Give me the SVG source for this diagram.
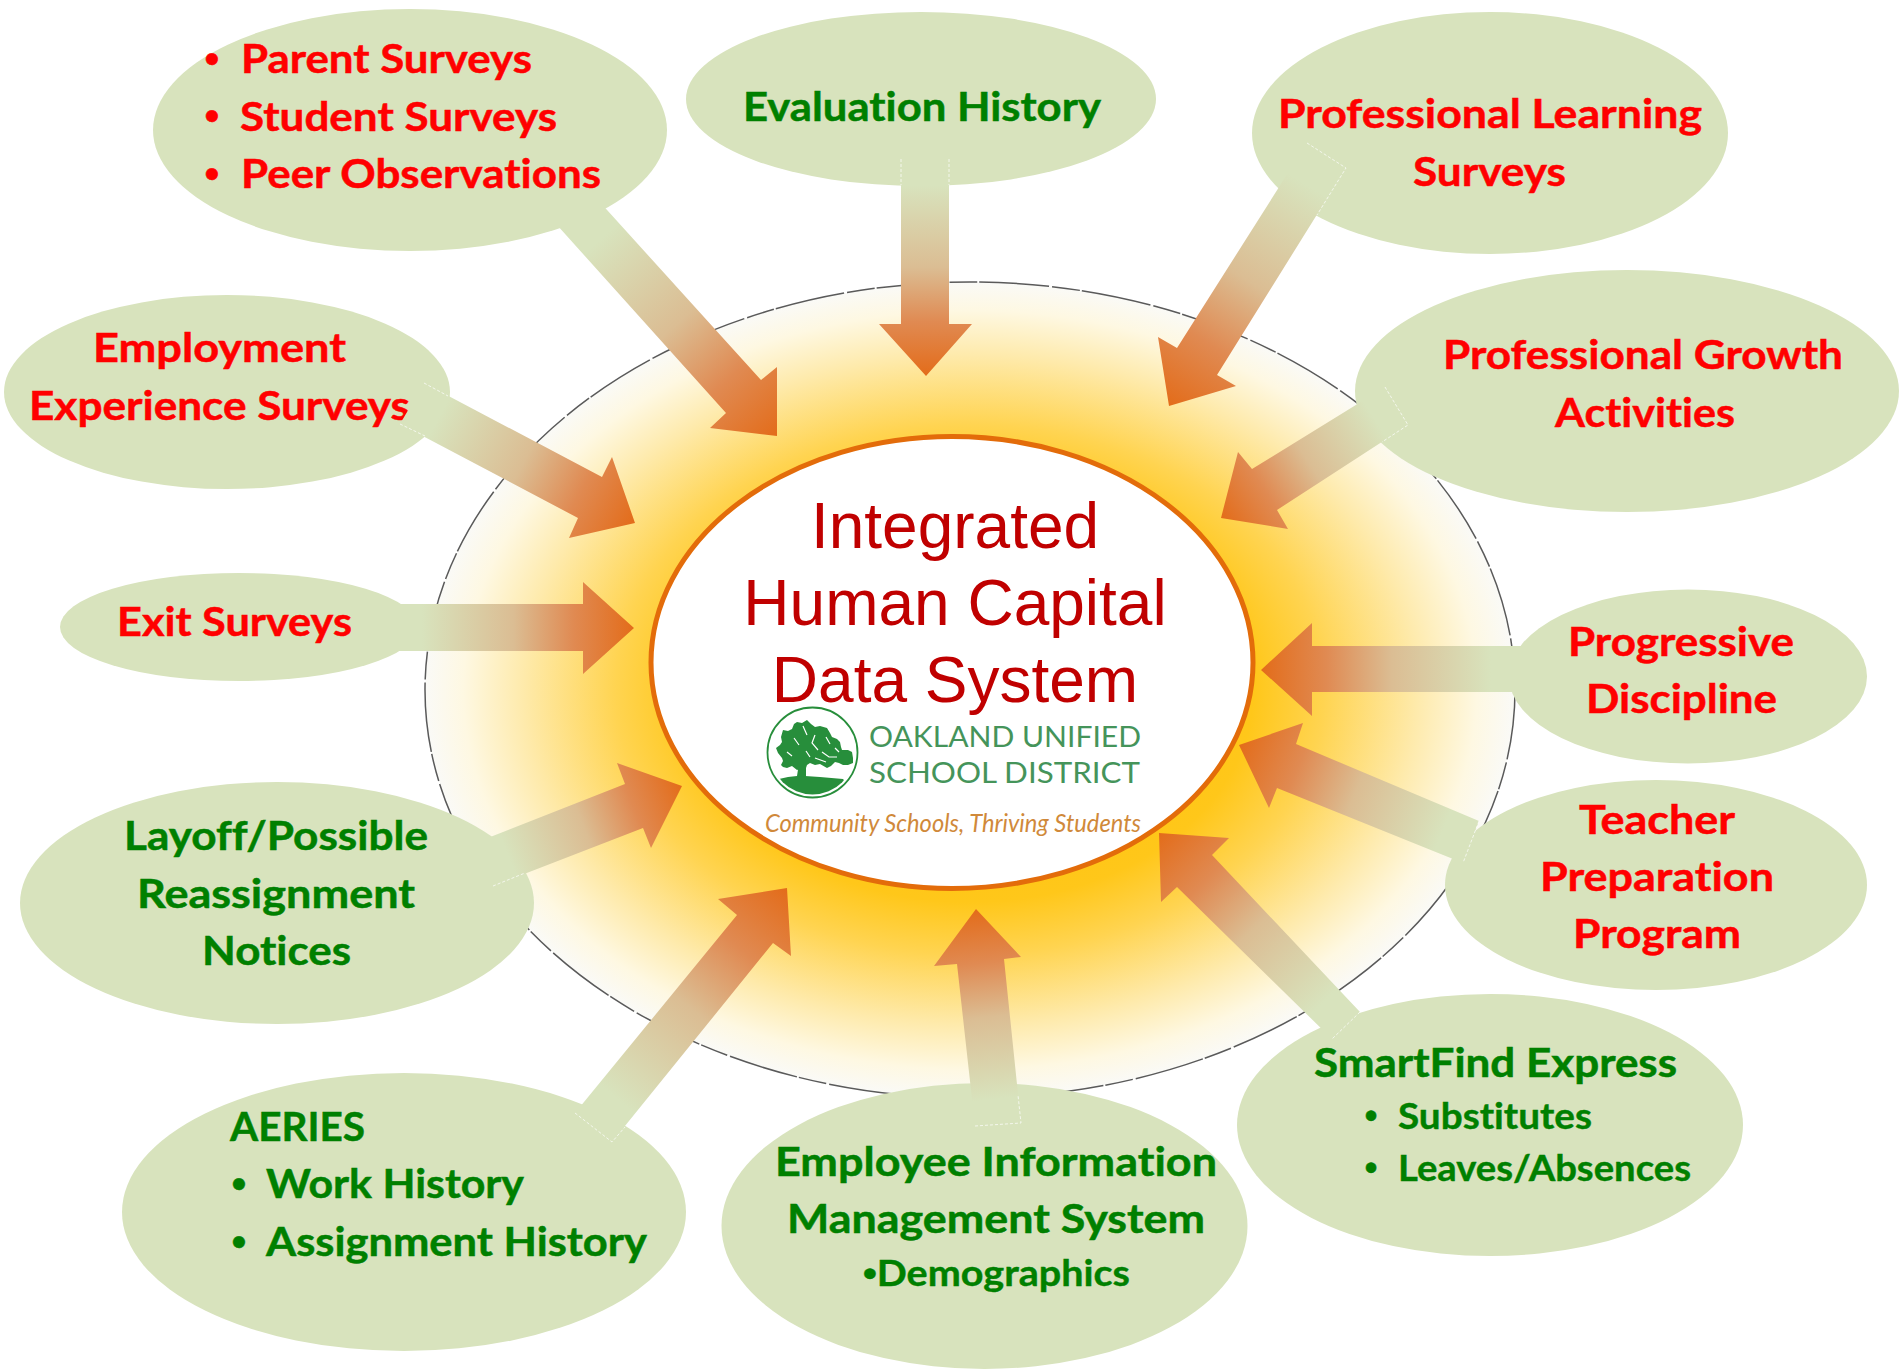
<svg xmlns="http://www.w3.org/2000/svg" width="1901" height="1371" viewBox="0 0 1901 1371">
<style>
.n{fill:#D8E3BD}
text{font-family:"Lato","Open Sans",sans-serif;font-variant-ligatures:none}
.t{font-weight:700;font-size:41px;stroke-width:.5px}
.s{font-weight:700;font-size:36px;stroke-width:.4px}
.r{fill:#FF0000;stroke:#FF0000}
.g{fill:#008000;stroke:#008000}
.b{font-family:"Liberation Sans",Arial,sans-serif;text-anchor:middle}
.c{font-family:"Liberation Sans",Arial,sans-serif;font-size:64px;fill:#C00000;text-anchor:middle}
.l{font-size:29px;font-weight:400;fill:#45945A}
</style>
<defs>
<radialGradient id="glow" cx="0.5" cy="0.5" r="0.5">
<stop offset="0" stop-color="#FFC000"/>
<stop offset="0.52" stop-color="#FFC71A"/>
<stop offset="0.65" stop-color="#FFD451"/>
<stop offset="0.82" stop-color="#FEEAAB"/>
<stop offset="0.93" stop-color="#FEF8E2"/>
<stop offset="1" stop-color="#FAFAF7"/>
</radialGradient>
<linearGradient id="ag">
<stop offset="0.12" stop-color="#D8E3BD"/>
<stop offset="0.5" stop-color="#DBBD93"/>
<stop offset="0.75" stop-color="#E08A52"/>
<stop offset="1" stop-color="#E36C1A"/>
</linearGradient>
<linearGradient id="a1" href="#ag" gradientUnits="userSpaceOnUse" x1="577" y1="212" x2="777" y2="436"/>
<linearGradient id="a2" href="#ag" gradientUnits="userSpaceOnUse" x1="925" y1="159" x2="925" y2="376"/>
<linearGradient id="a3" href="#ag" gradientUnits="userSpaceOnUse" x1="1326" y1="155" x2="1169" y2="406"/>
<linearGradient id="a4" href="#ag" gradientUnits="userSpaceOnUse" x1="1396" y1="406" x2="1221" y2="518"/>
<linearGradient id="a5" href="#ag" gradientUnits="userSpaceOnUse" x1="412" y1="403" x2="635" y2="523"/>
<linearGradient id="a6" href="#ag" gradientUnits="userSpaceOnUse" x1="393" y1="628" x2="634" y2="628"/>
<linearGradient id="a7" href="#ag" gradientUnits="userSpaceOnUse" x1="1522" y1="670" x2="1261" y2="670"/>
<linearGradient id="a8" href="#ag" gradientUnits="userSpaceOnUse" x1="1471" y1="842" x2="1239" y2="745"/>
<linearGradient id="a9" href="#ag" gradientUnits="userSpaceOnUse" x1="1346" y1="1025" x2="1159" y2="833"/>
<linearGradient id="a10" href="#ag" gradientUnits="userSpaceOnUse" x1="998" y1="1125" x2="976" y2="909"/>
<linearGradient id="a11" href="#ag" gradientUnits="userSpaceOnUse" x1="593" y1="1127" x2="787" y2="888"/>
<linearGradient id="a12" href="#ag" gradientUnits="userSpaceOnUse" x1="484" y1="864" x2="682" y2="786"/>
<clipPath id="ring"><ellipse cx="812.5" cy="752.5" rx="42" ry="42"/></clipPath>
</defs>

<g id="glow-field">
<ellipse cx="970" cy="690" rx="545" ry="408" fill="url(#glow)" stroke="#5A5A5A" stroke-width="1.5" stroke-dasharray="70 3 28 2"/>
</g>

<g id="node-center">
<ellipse cx="952" cy="662.5" rx="301" ry="226" fill="#fff" stroke="#E36C0A" stroke-width="5"/>
<text class="c" x="955" y="548">Integrated</text>
<text class="c" x="955" y="625">Human Capital</text>
<text class="c" x="955" y="702">Data System</text>
</g>

<g id="logo">
<ellipse cx="812.5" cy="752.5" rx="45" ry="45" fill="none" stroke="#278E3B" stroke-width="1.8"/>
<g fill="#278E3B" clip-path="url(#ring)">
<path d="M779 779L788 777L797 776L805 776L820 777L843 779L860 800L765 800Z"/>
<path d="M797 776L799 763L796 757L808 757L806 765L806 777Z"/>
<path d="M783 730L788 731L792 729L794 724L797 722L802 723L807 720L811 724L815 727L820 726L827 728L830 733L832 737L837 739L840 742L841 747L842 750L848 750L852 752L853 758L853 763L848 765L843 765L839 763L835 762L831 766L827 768L820 764L815 765L810 763L807 765L805 771L800 769L797 770L792 766L787 768L783 767L781 765L783 761L782 758L778 753L776 748L780 745L782 742L781 737Z"/>
</g>
<g fill="none" stroke="#fff" stroke-width="1.2">
<path d="M803 726L807 735M794 738L799 745M815 735L812 743L818 750M826 737L830 744M787 752L792 756M822 752L829 757L837 757M806 751L810 757M835 748L839 752M815 758L826 762"/>
</g>
<text class="l" x="869" y="747" textLength="272" lengthAdjust="spacingAndGlyphs">OAKLAND UNIFIED</text>
<text class="l" x="869" y="783" textLength="271" lengthAdjust="spacingAndGlyphs">SCHOOL DISTRICT</text>
<text x="765" y="832" font-size="25" font-style="italic" fill="#D0893A" textLength="376" lengthAdjust="spacingAndGlyphs">Community Schools, Thriving Students</text>
</g>

<g id="node-surveys">
<ellipse class="n" cx="410" cy="130" rx="257" ry="121"/>
<text class="t r b" x="212" y="73">•</text>
<text class="t r b" x="212" y="130">•</text>
<text class="t r b" x="212" y="188">•</text>
<text class="t r" x="241" y="73" textLength="291" lengthAdjust="spacingAndGlyphs">Parent Surveys</text>
<text class="t r" x="240" y="131" textLength="317" lengthAdjust="spacingAndGlyphs">Student Surveys</text>
<text class="t r" x="241" y="188" textLength="360" lengthAdjust="spacingAndGlyphs">Peer Observations</text>
</g>
<g id="node-evaluation">
<ellipse class="n" cx="921" cy="99" rx="235" ry="87"/>
<text class="t g" x="743" y="121" textLength="358" lengthAdjust="spacingAndGlyphs">Evaluation History</text>
</g>
<g id="node-learning">
<ellipse class="n" cx="1490" cy="133" rx="238" ry="121"/>
<text class="t r" x="1278" y="128" textLength="424" lengthAdjust="spacingAndGlyphs">Professional Learning</text>
<text class="t r" x="1413" y="186" textLength="153" lengthAdjust="spacingAndGlyphs">Surveys</text>
</g>
<g id="node-growth">
<ellipse class="n" cx="1627" cy="391" rx="272" ry="121"/>
<text class="t r" x="1443" y="369" textLength="400" lengthAdjust="spacingAndGlyphs">Professional Growth</text>
<text class="t r" x="1555" y="427" textLength="180" lengthAdjust="spacingAndGlyphs">Activities</text>
</g>
<g id="node-employment">
<ellipse class="n" cx="227" cy="392" rx="223" ry="97"/>
<text class="t r" x="93" y="362" textLength="253" lengthAdjust="spacingAndGlyphs">Employment</text>
<text class="t r" x="29" y="420" textLength="381" lengthAdjust="spacingAndGlyphs">Experience Surveys</text>
</g>
<g id="node-exit">
<ellipse class="n" cx="239" cy="627" rx="179" ry="54"/>
<text class="t r" x="117" y="636" textLength="235" lengthAdjust="spacingAndGlyphs">Exit Surveys</text>
</g>
<g id="node-discipline">
<ellipse class="n" cx="1688" cy="676.5" rx="179" ry="87"/>
<text class="t r" x="1568" y="656" textLength="226" lengthAdjust="spacingAndGlyphs">Progressive</text>
<text class="t r" x="1586" y="713" textLength="191" lengthAdjust="spacingAndGlyphs">Discipline</text>
</g>
<g id="node-teacher">
<ellipse class="n" cx="1656" cy="885" rx="211" ry="105"/>
<text class="t r" x="1579" y="834" textLength="156" lengthAdjust="spacingAndGlyphs">Teacher</text>
<text class="t r" x="1540" y="891" textLength="234" lengthAdjust="spacingAndGlyphs">Preparation</text>
<text class="t r" x="1573" y="948" textLength="168" lengthAdjust="spacingAndGlyphs">Program</text>
</g>
<g id="node-smartfind">
<ellipse class="n" cx="1490" cy="1125" rx="253" ry="131"/>
<text class="t g" x="1314" y="1077" textLength="363" lengthAdjust="spacingAndGlyphs">SmartFind Express</text>
<text class="s g b" x="1371" y="1128">•</text>
<text class="s g b" x="1371" y="1180">•</text>
<text class="s g" x="1398" y="1129" textLength="194" lengthAdjust="spacingAndGlyphs">Substitutes</text>
<text class="s g" x="1398" y="1181" textLength="293" lengthAdjust="spacingAndGlyphs">Leaves/Absences</text>
</g>
<g id="node-eims">
<ellipse class="n" cx="984.5" cy="1226" rx="263" ry="143"/>
<text class="t g" x="775" y="1176" textLength="442" lengthAdjust="spacingAndGlyphs">Employee Information</text>
<text class="t g" x="787" y="1233" textLength="418" lengthAdjust="spacingAndGlyphs">Management System</text>
<text class="s g" x="863" y="1286" textLength="267" lengthAdjust="spacingAndGlyphs"><tspan font-family="Liberation Sans">•</tspan>Demographics</text>
</g>
<g id="node-aeries">
<ellipse class="n" cx="404" cy="1212" rx="282" ry="139"/>
<text class="t g" x="230" y="1141" textLength="135" lengthAdjust="spacingAndGlyphs">AERIES</text>
<text class="t g b" x="239" y="1198">•</text>
<text class="t g b" x="239" y="1256">•</text>
<text class="t g" x="266" y="1198" textLength="258" lengthAdjust="spacingAndGlyphs">Work History</text>
<text class="t g" x="266" y="1256" textLength="381" lengthAdjust="spacingAndGlyphs">Assignment History</text>
</g>
<g id="node-layoff">
<ellipse class="n" cx="277" cy="903" rx="257" ry="121"/>
<text class="t g" x="124" y="850" textLength="304" lengthAdjust="spacingAndGlyphs">Layoff/Possible</text>
<text class="t g" x="137" y="908" textLength="278" lengthAdjust="spacingAndGlyphs">Reassignment</text>
<text class="t g" x="202" y="965" textLength="149" lengthAdjust="spacingAndGlyphs">Notices</text>
</g>

<g id="connectors">
<polygon fill="url(#a1)" points="598,200 761,380 777,367 777,436 710,428 726,413 557,225"/>
<polygon fill="url(#a2)" points="901,159 949,159 949,324 972,324 926,376 879,324 901,324"/>
<polygon fill="url(#a3)" points="1307,143 1346,168 1217,375 1236,386 1169,406 1158,337 1177,348"/>
<polygon fill="url(#a4)" points="1385,387 1408,425 1277,510 1288,529 1221,518 1238,452 1252,469"/>
<polygon fill="url(#a5)" points="424,383 602,477 612,457 635,523 569,538 578,518 400,424"/>
<polygon fill="url(#a6)" points="393,604 583,604 583,582 634,628 583,674 583,651 393,651"/>
<polygon fill="url(#a7)" points="1522,646 1312,646 1312,623 1261,670 1312,716 1312,692 1522,692"/>
<polygon fill="url(#a8)" points="1479,821 1296,744 1303,723 1239,745 1269,808 1277,788 1463,863"/>
<polygon fill="url(#a9)" points="1360,1012 1212,855 1229,838 1159,833 1161,902 1177,887 1332,1039"/>
<polygon fill="url(#a10)" points="1021,1123 1004,959 1021,957 976,909 934,966 957,964 975,1126"/>
<polygon fill="url(#a11)" points="575,1113 737,915 718,899 787,888 791,956 773,943 612,1142"/>
<polygon fill="url(#a12)" points="475,843 625,784 617,763 682,786 651,848 643,828 493,886"/>
<path fill="none" stroke="#fff" stroke-opacity=".7" stroke-dasharray="3 2" d="M1307 143L1346 168L1317 215M1385 387L1408 425L1382 442M424 383L448 396M400 424L425 436M1360 1012L1332 1039M975 1126L1021 1123L1018 1095M575 1113L612 1142L625 1127M493 886L525 873M1479 821L1463 863M901 159V185M949 159V185"/>
</g>
</svg>
